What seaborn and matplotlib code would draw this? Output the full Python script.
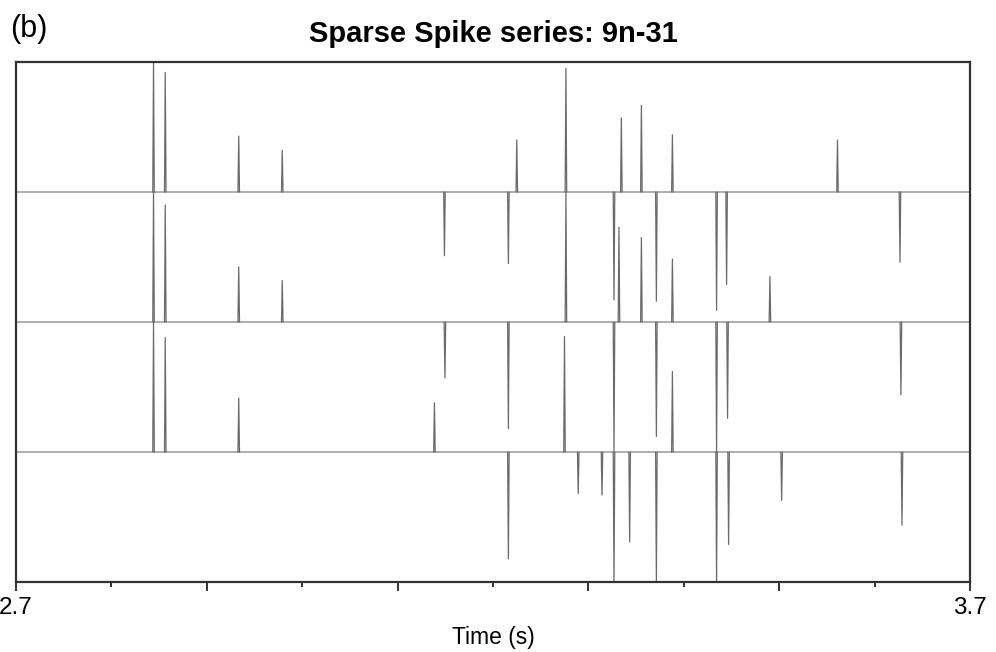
import numpy as np
import pandas as pd
import matplotlib
matplotlib.use("Agg")
import matplotlib.pyplot as plt
from matplotlib.ticker import FixedLocator
import seaborn as sns

# Spike events per channel: times (s) and signed amplitudes (fraction of one band)
ch1_times = [2.8442, 2.8565, 2.9335, 2.9791, 3.1491, 3.2161, 3.2249, 3.2764,
             3.3268, 3.3345, 3.3555, 3.3712, 3.3880, 3.4343, 3.4448, 3.5610, 3.6265]
ch1_amps = [1.00, 0.92, 0.43, 0.32, -0.49, -0.55, 0.40, 0.95,
            -0.83, 0.57, 0.665, -0.84, 0.44, -0.91, -0.71, 0.40, -0.54]

ch2_times = [2.8442, 2.8565, 2.9335, 2.9791, 3.1496, 3.2161, 3.2764, 3.3268,
             3.3320, 3.3555, 3.3712, 3.3880, 3.4343, 3.4458, 3.4902, 3.6275]
ch2_amps = [1.00, 0.90, 0.425, 0.32, -0.43, -0.82, 1.00, -1.00,
            0.73, 0.65, -0.88, 0.485, -1.00, -0.74, 0.35, -0.56]

ch3_times = [2.8442, 2.8565, 2.9335, 3.1386, 3.2161, 3.2749, 3.2893, 3.3142,
             3.3268, 3.3432, 3.3712, 3.3880, 3.4343, 3.4469, 3.5025, 3.6286]
ch3_amps = [1.00, 0.88, 0.415, 0.38, -0.82, 0.89, -0.32, -0.33,
            -1.00, -0.69, -1.00, 0.62, -1.00, -0.71, -0.37, -0.56]

channels = [(ch1_times, ch1_amps, 3.0), (ch2_times, ch2_amps, 2.0), (ch3_times, ch3_amps, 1.0)]

t_start, t_end = 2.7, 3.7
major_ticks = [2.7, 2.9, 3.1, 3.3, 3.5, 3.7]
major_labels = ["2.7", "", "", "", "", "3.7"]
minor_ticks = [2.8, 3.0, 3.2, 3.4, 3.6]

title = "Sparse Spike series: 9n-31"
panel = "(b)"
xlabel = "Time (s)"

half_width = 0.0008  # half base width of each spike (s)


def baseline_frame(offset):
    return pd.DataFrame({"time": [t_start, t_end], "value": [offset, offset]})


def spike_frame(times, amps, offset):
    """Narrow triangular spikes; each event is its own unit so they stay separate."""
    rows = []
    for i, (t, a) in enumerate(sorted(zip(times, amps))):
        rows += [(i, t - half_width, offset),
                 (i, t, offset + a),
                 (i, t + half_width, offset)]
    return pd.DataFrame(rows, columns=["spike", "time", "value"])


sns.set_theme(style="white")
plt.rcParams["font.family"] = ["Liberation Sans", "DejaVu Sans"]
plt.rcParams["text.color"] = "black"
plt.rcParams["axes.labelcolor"] = "black"
plt.rcParams["xtick.color"] = "black"

fig = plt.figure(figsize=(9.96, 6.52), dpi=100)
ax = fig.add_axes([0.016, 0.107, 0.958, 0.798])

for times, amps, offset in channels:
    sns.lineplot(data=baseline_frame(offset), x="time", y="value", ax=ax,
                 sort=False, estimator=None, color="#a8a8a8", linewidth=1.3,
                 zorder=1)
    sns.lineplot(data=spike_frame(times, amps, offset), x="time", y="value",
                 units="spike", estimator=None, sort=False, ax=ax,
                 color="#6a6a6a", linewidth=0.9, zorder=2)

ax.set_xlim(t_start, t_end)
ax.set_ylim(0, 4)
ax.set_yticks([])
ax.set_ylabel("")

ax.xaxis.set_major_locator(FixedLocator(major_ticks))
ax.set_xticklabels(major_labels)
ax.xaxis.set_minor_locator(FixedLocator(minor_ticks))
ax.tick_params(axis="x", which="major", direction="out", length=6.5, width=1.3,
               color="#222222", labelsize=17.5, labelcolor="black", pad=4, bottom=True)
ax.tick_params(axis="x", which="minor", direction="out", length=3.5, width=1.3,
               color="#222222", bottom=True)

for sp in ax.spines.values():
    sp.set_visible(True)
    sp.set_color("#333333")
    sp.set_linewidth(1.6)

ax.set_xlabel(xlabel, fontsize=16.5, labelpad=5, color="black")
ax.set_title(title, fontsize=21, fontweight="bold", pad=14, color="black")
fig.text(0.010, 0.978, panel, fontsize=22, ha="left", va="top", color="black")

fig.savefig("out.png", dpi=100)
